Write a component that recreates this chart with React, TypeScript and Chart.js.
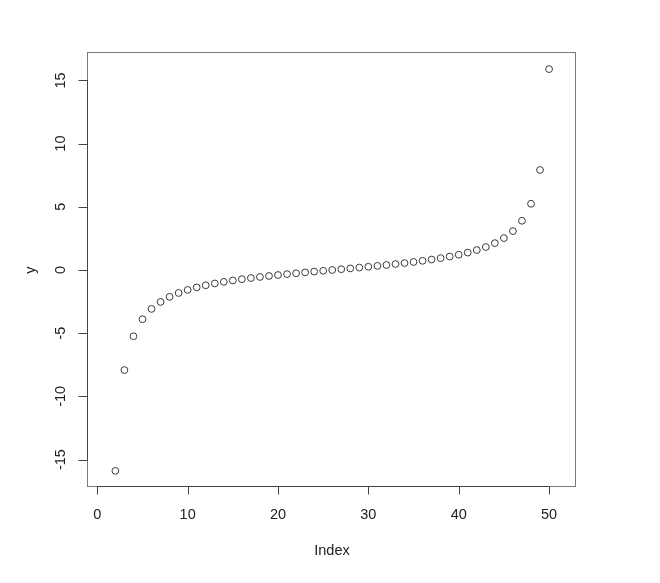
import React, { useEffect, useRef } from "react";
import { Chart, registerables } from "chart.js";

Chart.register(...registerables);

const indices: number[] = [
  1, 2, 3, 4, 5, 6, 7, 8, 9, 10, 11, 12, 13, 14, 15, 16, 17, 18, 19, 20, 21, 22, 23, 24, 25,
  26, 27, 28, 29, 30, 31, 32, 33, 34, 35, 36, 37, 38, 39, 40, 41, 42, 43, 44, 45, 46, 47, 48, 49, 50,
];
const yValues: (number | null)[] = [
  null, -15.895, -7.916, -5.242, -3.895, -3.078, -2.526, -2.125, -1.819, -1.576, -1.376,
  -1.209, -1.065, -0.939, -0.827, -0.727, -0.635, -0.55, -0.471, -0.396, -0.325, -0.257,
  -0.191, -0.126, -0.063, 0, 0.063, 0.126, 0.191, 0.257, 0.325, 0.396, 0.471, 0.55, 0.635,
  0.727, 0.827, 0.939, 1.065, 1.209, 1.376, 1.576, 1.819, 2.125, 2.526, 3.078, 3.895,
  5.242, 7.916, 15.895,
];
const xTicks: number[] = [0, 10, 20, 30, 40, 50];
const yTicks: number[] = [-15, -10, -5, 0, 5, 10, 15];
const xTitle = "Index";
const yTitle = "y";

const FONT = '14.5px "Liberation Sans", Arial, sans-serif';

const rAxesPlugin = {
  id: "rAxes",
  afterDraw(chart: any) {
    const ctx = chart.ctx as CanvasRenderingContext2D;
    const area = chart.chartArea;
    const xs = chart.scales.x;
    const ys = chart.scales.y;
    ctx.save();
    // box
    ctx.strokeStyle = "#7a7a7a";
    ctx.lineWidth = 1;
    ctx.strokeRect(area.left - 0.5, area.top - 0.5, area.right - area.left, area.bottom - area.top);
    // axes lines
    ctx.strokeStyle = "#444";
    const bx = area.left - 0.5;
    const by = area.bottom - 0.5;
    ctx.beginPath();
    ctx.moveTo(Math.round(xs.getPixelForValue(xTicks[0])), by);
    ctx.lineTo(Math.round(xs.getPixelForValue(xTicks[xTicks.length - 1])), by);
    ctx.moveTo(bx, Math.round(ys.getPixelForValue(yTicks[0])));
    ctx.lineTo(bx, Math.round(ys.getPixelForValue(yTicks[yTicks.length - 1])));
    // ticks
    for (const t of xTicks) {
      const px = Math.round(xs.getPixelForValue(t)) + 0.5;
      ctx.moveTo(px, by);
      ctx.lineTo(px, by + 8);
    }
    for (const t of yTicks) {
      const py = Math.round(ys.getPixelForValue(t)) + 0.5;
      ctx.moveTo(bx, py);
      ctx.lineTo(bx - 9, py);
    }
    ctx.stroke();
    // labels
    ctx.fillStyle = "#222";
    ctx.font = FONT;
    ctx.textAlign = "center";
    ctx.textBaseline = "middle";
    for (const t of xTicks) {
      ctx.fillText(String(t), xs.getPixelForValue(t), area.bottom + 28);
    }
    ctx.fillText(xTitle, (area.left + area.right) / 2, area.bottom + 64);
    for (const t of yTicks) {
      ctx.save();
      ctx.translate(area.left - 27, ys.getPixelForValue(t));
      ctx.rotate(-Math.PI / 2);
      ctx.fillText(String(t), 0, 0);
      ctx.restore();
    }
    ctx.save();
    ctx.translate(area.left - 57, (area.top + area.bottom) / 2);
    ctx.rotate(-Math.PI / 2);
    ctx.fillText(yTitle, 0, 0);
    ctx.restore();
    ctx.restore();
  },
};

export default function App() {
  const ref = useRef<HTMLCanvasElement | null>(null);
  useEffect(() => {
    document.body.style.margin = "0";
    const canvas = ref.current;
    if (!canvas) return;
    const points = indices
      .map((x, i) => ({ x, y: yValues[i] }))
      .filter((p) => p.y !== null) as { x: number; y: number }[];
    const chart = new Chart(canvas, {
      type: "scatter",
      data: {
        datasets: [
          {
            data: points,
            pointStyle: "circle",
            pointRadius: 3.4,
            pointBorderWidth: 1,
            borderColor: "#3a3a3a",
            backgroundColor: "rgba(0,0,0,0)",
            pointHoverRadius: 3.4,
          },
        ],
      },
      options: {
        animation: false,
        responsive: false,
        devicePixelRatio: 1,
        layout: { padding: { left: 88, top: 53, right: 84, bottom: 96 } },
        plugins: { legend: { display: false }, tooltip: { enabled: false } },
        events: [],
        scales: {
          x: { type: "linear", display: false, min: -1.03, max: 52.98 },
          y: { type: "linear", display: false, min: -17.17, max: 17.17 },
        },
      },
      plugins: [rAxesPlugin],
    });
    return () => chart.destroy();
  }, []);
  return (
    <div style={{ position: "absolute", left: 0, top: 0, width: 660, height: 583, background: "#fff" }}>
      <canvas ref={ref} width={660} height={583} style={{ width: 660, height: 583, display: "block" }} />
    </div>
  );
}
